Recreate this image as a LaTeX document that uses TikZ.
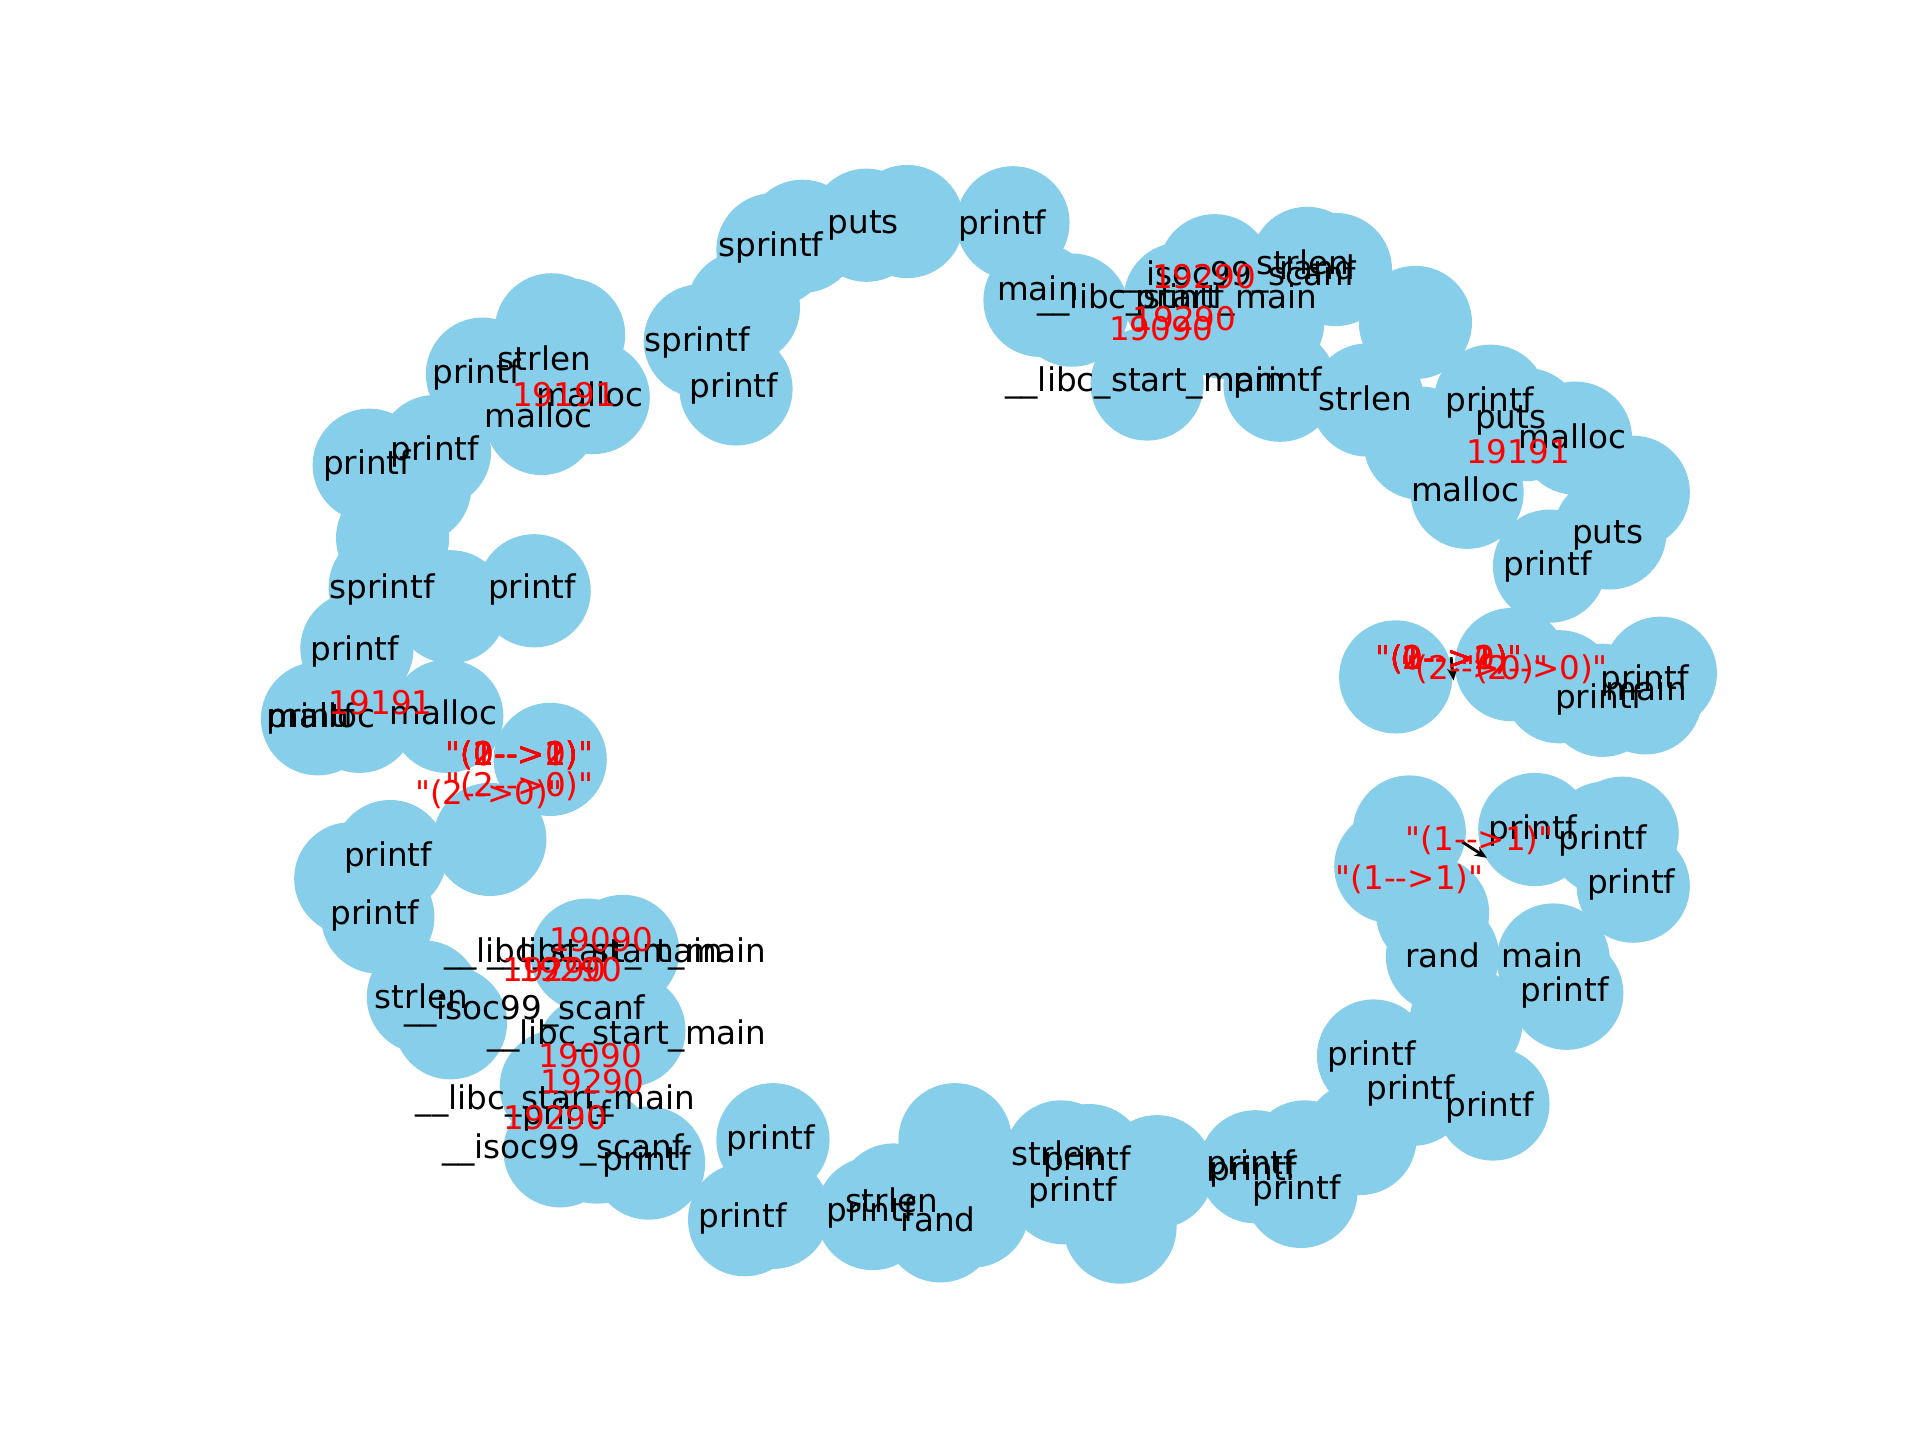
\documentclass[tikz,border=0pt]{standalone}
\usepackage{fontspec}
\setmainfont{DejaVu Sans}[Ligatures=TeXOff]
\usetikzlibrary{arrows.meta}
\definecolor{skyblue}{RGB}{135,206,235}
\newcommand{\dd}{-\kern0pt-}
\tikzset{
  vtx/.style={circle, fill=skyblue, draw=none, inner sep=0pt, minimum size=55.2pt},
  lbl/.style={font=\fontsize{15.9}{19}\selectfont, inner sep=0pt, text height=0.76em, text depth=0.24em, text=black, yshift=-3pt, xshift=-1pt},
  elbl/.style={lbl, text=red},
  edgearrow/.style={-{Stealth[length=6pt,width=5pt]}, line width=1.4pt, black}
}
\begin{document}
\begin{tikzpicture}[x=0.6pt,y=-0.6pt]
\useasboundingbox[fill=white] (0,0) rectangle (1560,1170);
% vertices
\foreach \x/\y [count=\i] in {
 628/203,652/192,704/183,737/180,823/181,
 604/250,569/277,598/316,
 448/268,462/272,392/304,482/323,440/340,353/367,300/378,337/396,319/437,
 313/477,366/493,434/480,290/527,258/584,292/582,363/582,447/617,398/682,
 317/696,285/714,307/745,344/810,366/831,477/776,506/773,511/837,452/883,482/855,455/935,485/932,527/945,
 628/926,605/991,628/985,709/986,726/975,764/996,790/984,776/926,862/940,885/943,864/965,910/997,940/952,
 1020/948,1060/940,1057/968,1105/925,1116/858,1148/885,1191/831,1213/897,
 1172/777,1262/780,1273/807,1164/742,1145/676,1130/704,1247/674,1304/681,1318/677,1327/720,
 1134/550,1228/540,1267/558,1302/569,1349/547,1337/567,
 1259/460,1308/433,1327/400,1192/400,1280/356,1211/326,1240/345,1154/360,1111/325,1040/313,1030/262,
 932/312,1150/262,1085/219,1062/214,987/220,959/243,995/262,871/252,845/244}
  \node[vtx] (c\i) at (\x,\y) {};
% visible edge fragments
\coordinate (a1s) at (1179,534);
\coordinate (a1e) at (1181,553);
\coordinate (a2s) at (1188,684);
\coordinate (a2e) at (1208,697);
\draw[edgearrow] (a1s) -- (a1e);
\draw[edgearrow] (a2s) -- (a2e);
% node labels
\foreach \x/\y/\t [count=\i] in {
 628/199/sprintf, 703/180/puts, 816/181/printf, 568/276/sprintf, 598/314/printf,
 389/302/printf, 444/292/strlen, 481/321/malloc, 439/338/malloc, 355/365/printf, 300/376/printf,
 845/235/main, 958/241/\_\_libc\_start\_main, 960/241/printf, 1005/223/\_\_isoc99\_scanf,
 1060/214/strlen, 1072/218/rand, 932/309/\_\_libc\_start\_main, 1040/309/printf, 1111/324/strlen,
 1212/325/printf, 1229/339/puts, 1279/355/malloc, 1192/398/malloc, 1308/432/puts, 1259/458/printf,
 312/477/sprintf, 434/477/printf, 290/527/printf, 254/582/printf, 252/582/main, 263/582/malloc,
 362/579/malloc, 317/695/printf, 306/742/printf, 344/810/strlen, 428/819/\_\_isoc99\_scanf,
 476/773/\_\_libc\_start\_main, 511/773/\_\_libc\_start\_main, 511/839/\_\_libc\_start\_main,
 453/892/\_\_libc\_start\_main, 462/904/printf, 459/932/\_\_isoc99\_scanf, 527/942/printf,
 628/925/printf, 605/988/printf, 709/983/printf, 726/976/strlen, 764/991/rand,
 861/938/strlen, 885/942/printf, 873/967/printf, 1018/945/printf, 1020/950/printf, 1055/965/printf,
 1116/856/printf, 1148/884/printf, 1212/898/printf,
 1301/566/printf, 1338/551/printf, 1339/560/main,
 1247/673/printf, 1304/681/printf, 1327/717/printf, 1174/777/rand, 1255/777/main, 1273/804/printf}
  \node[lbl] (l\i) at (\x,\y) {\t};
% edge labels
\foreach \x/\y/\t [count=\i] in {
 460/321/19191, 980/225/19290, 964/259/19290, 945/267/19090, 1235/367/19191,
 1179/535/"(0\dd>0)", 1179/535/"(1\dd>1)", 1179/535/"(2\dd>2)", 1179/535/"(0\dd>1)", 1179/535/"(1\dd>2)", 1179/535/"(2\dd>1)",
 1200/543/"(2\dd>0)", 1248/543/"(2\dd>0)",
 1204/682/"(1\dd>1)", 1147/713/"(1\dd>1)",
 311/571/19191,
 424/613/"(0\dd>0)", 424/613/"(1\dd>1)", 424/613/"(2\dd>2)", 424/613/"(0\dd>1)", 424/613/"(1\dd>2)", 424/613/"(2\dd>1)",
 424/638/"(2\dd>0)", 399/644/"(2\dd>0)",
 490/764/19090, 452/788/19290, 465/788/19290, 481/858/19090, 483/879/19290, 453/908/19290}
  \node[elbl] (e\i) at (\x,\y) {\t};
\end{tikzpicture}
\end{document}
